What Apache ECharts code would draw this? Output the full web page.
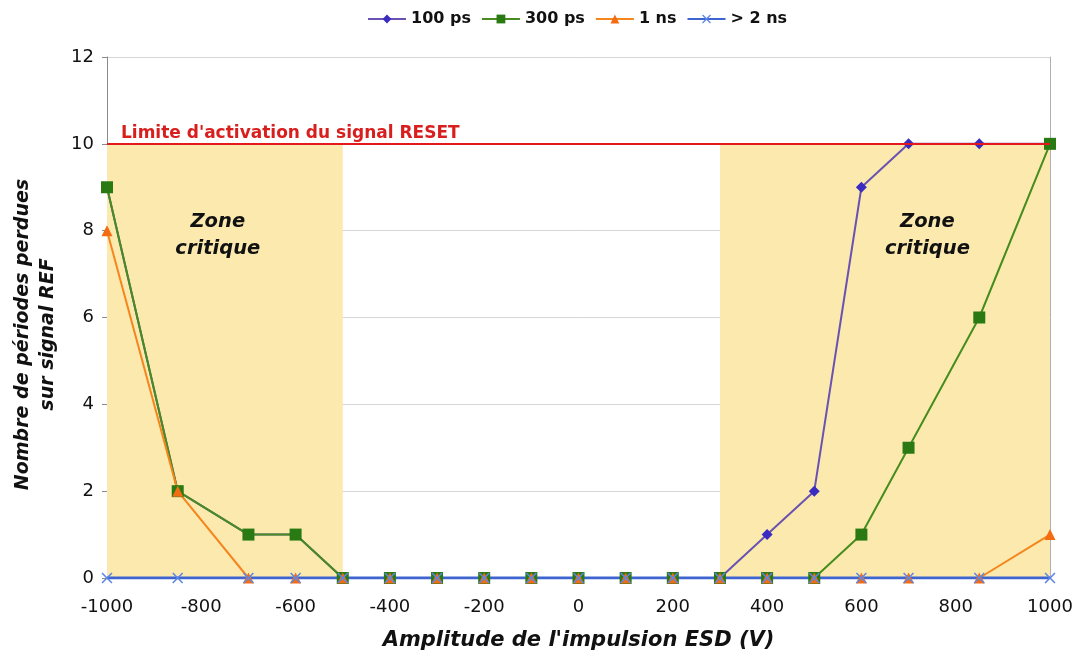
<!DOCTYPE html>
<html>
<head>
<meta charset="utf-8">
<script src="https://cdn.jsdelivr.net/npm/echarts@6/dist/echarts.min.js"></script>
<style>
    html, body { margin: 0; padding: 0; background: #fff; }
    #chart { width: 1080px; height: 659px; }
</style>
</head>
<body>
<div id="chart"></div>
<script>
// amplitudes (V)
var amplitudes = [-1000, -850, -700, -600, -500, -400, -300, -200, -100, 0, 100, 200, 300, 400, 500, 600, 700, 850, 1000];
// periodes perdues par largeur d'impulsion
var ps100 = [9, 2, 1, 1, 0, 0, 0, 0, 0, 0, 0, 0, 0, 1, 2, 9, 10, 10, 10];
var ps300 = [9, 2, 1, 1, 0, 0, 0, 0, 0, 0, 0, 0, 0, 0, 0, 1, 3, 6, 10];
var ns1 = [8, 2, 0, 0, 0, 0, 0, 0, 0, 0, 0, 0, 0, 0, 0, 0, 0, 0, 1];
var ns2 = [0, 0, 0, 0, 0, 0, 0, 0, 0, 0, 0, 0, 0, 0, 0, 0, 0, 0, 0];
var seriesNames = ['100 ps', '300 ps', '1 ns', '> 2 ns'];
var zonesCritiques = [[-1000, -500], [300, 1000]];
var limiteReset = 10;

var fontFam = '"DejaVu Sans", Verdana, sans-serif';
var crossPath = 'path://M0,1 L1,0 L5,4 L9,0 L10,1 L6,5 L10,9 L9,10 L5,6 L1,10 L0,9 L4,5 Z';

function pairs(values) {
    var out = [];
    for (var i = 0; i < amplitudes.length; i++) {
        out.push([amplitudes[i], values[i]]);
    }
    return out;
}

var zoneData = zonesCritiques.map(function (z) {
    return [{ xAxis: z[0], yAxis: 0 }, { xAxis: z[1], yAxis: limiteReset }];
});

var zoneLabel = {
    show: true,
    color: '#111',
    fontFamily: fontFam,
    fontSize: 19.5,
    fontWeight: 'bold',
    fontStyle: 'italic',
    lineHeight: 27,
    align: 'center',
    verticalAlign: 'middle'
};

var myChart = echarts.init(document.getElementById('chart'));
var option = {
    backgroundColor: '#fff',
    animation: false,
    legend: {
        top: 6,
        left: 362,
        itemWidth: 38,
        itemHeight: 11,
        itemGap: 10,
        textStyle: { fontFamily: fontFam, fontSize: 16, fontWeight: 'bold', color: '#111' },
        data: seriesNames
    },
    grid: { left: 107, right: 30, top: 57, bottom: 81 },
    xAxis: {
        type: 'value',
        min: -1000,
        max: 1000,
        interval: 200,
        name: "Amplitude de l'impulsion ESD (V)",
        nameLocation: 'middle',
        nameGap: 52,
        nameTextStyle: { fontFamily: fontFam, fontSize: 21, fontWeight: 'bold', fontStyle: 'italic', color: '#111' },
        axisLine: { onZero: false, lineStyle: { color: '#8a8a8a', width: 1 } },
        axisTick: { show: false },
        axisLabel: {
            fontFamily: fontFam, fontSize: 18, color: '#111', margin: 20,
            formatter: function (v) { return String(v); }
        },
        splitLine: { show: false }
    },
    yAxis: [{
        type: 'value',
        min: 0,
        max: 12,
        interval: 2,
        name: 'Nombre de périodes perdues\nsur signal REF',
        nameLocation: 'middle',
        nameGap: 46,
        nameTextStyle: {
            fontFamily: fontFam, fontSize: 19, fontWeight: 'bold', fontStyle: 'italic',
            color: '#111', lineHeight: 25, padding: [0, 34, 0, 0]
        },
        axisLine: { show: true, onZero: false, lineStyle: { color: '#8a8a8a', width: 1 } },
        axisTick: { show: true, length: 5, lineStyle: { color: '#8a8a8a' } },
        axisLabel: { fontFamily: fontFam, fontSize: 18, color: '#111', margin: 13 },
        splitLine: { lineStyle: { color: '#d6d6d6', width: 1 } }
    }, {
        type: 'value',
        position: 'right',
        min: 0,
        max: 12,
        interval: 2,
        axisLine: { show: true, onZero: false, lineStyle: { color: '#b0b0b0', width: 1 } },
        axisTick: { show: false },
        axisLabel: { show: false },
        splitLine: { show: false }
    }],
    series: [
        {
            name: '100 ps',
            type: 'line',
            data: pairs(ps100),
            symbol: 'diamond',
            symbolSize: 11,
            itemStyle: { color: '#3a2cc0' },
            lineStyle: { color: '#6a52b2', width: 2 },
            markArea: {
                silent: true,
                itemStyle: { color: '#fbe9ae' },
                data: zoneData
            },
            markLine: {
                silent: true,
                symbol: 'none',
                lineStyle: { color: '#e3191c', width: 2, type: 'solid' },
                label: {
                    show: true,
                    position: 'insideStartTop',
                    formatter: "Limite d'activation du signal RESET",
                    color: '#d91e1e',
                    fontFamily: fontFam,
                    fontSize: 17,
                    fontWeight: 'bold',
                    distance: [14, 2]
                },
                data: [{ yAxis: limiteReset }]
            },
            markPoint: {
                silent: true,
                symbol: 'circle',
                symbolSize: 1,
                itemStyle: { color: 'rgba(0,0,0,0)' },
                label: zoneLabel,
                data: [
                    { coord: [-765, 7.88], value: 'Zone\ncritique', label: { formatter: 'Zone\ncritique' } },
                    { coord: [740, 7.88], value: 'Zone\ncritique', label: { formatter: 'Zone\ncritique' } }
                ]
            }
        },
        {
            name: '300 ps',
            type: 'line',
            data: pairs(ps300),
            symbol: 'rect',
            symbolSize: 12,
            itemStyle: { color: '#2a7a14' },
            lineStyle: { color: '#468c1e', width: 2 }
        },
        {
            name: '1 ns',
            type: 'line',
            data: pairs(ns1),
            symbol: 'triangle',
            symbolSize: 11,
            itemStyle: { color: '#f36c12' },
            lineStyle: { color: '#f5861e', width: 2 }
        },
        {
            name: '> 2 ns',
            type: 'line',
            data: pairs(ns2),
            symbol: crossPath,
            symbolSize: 11,
            itemStyle: { color: '#5b86e8' },
            lineStyle: { color: '#3d64d0', width: 3 }
        }
    ]
};
myChart.setOption(option);
</script>
</body>
</html>
